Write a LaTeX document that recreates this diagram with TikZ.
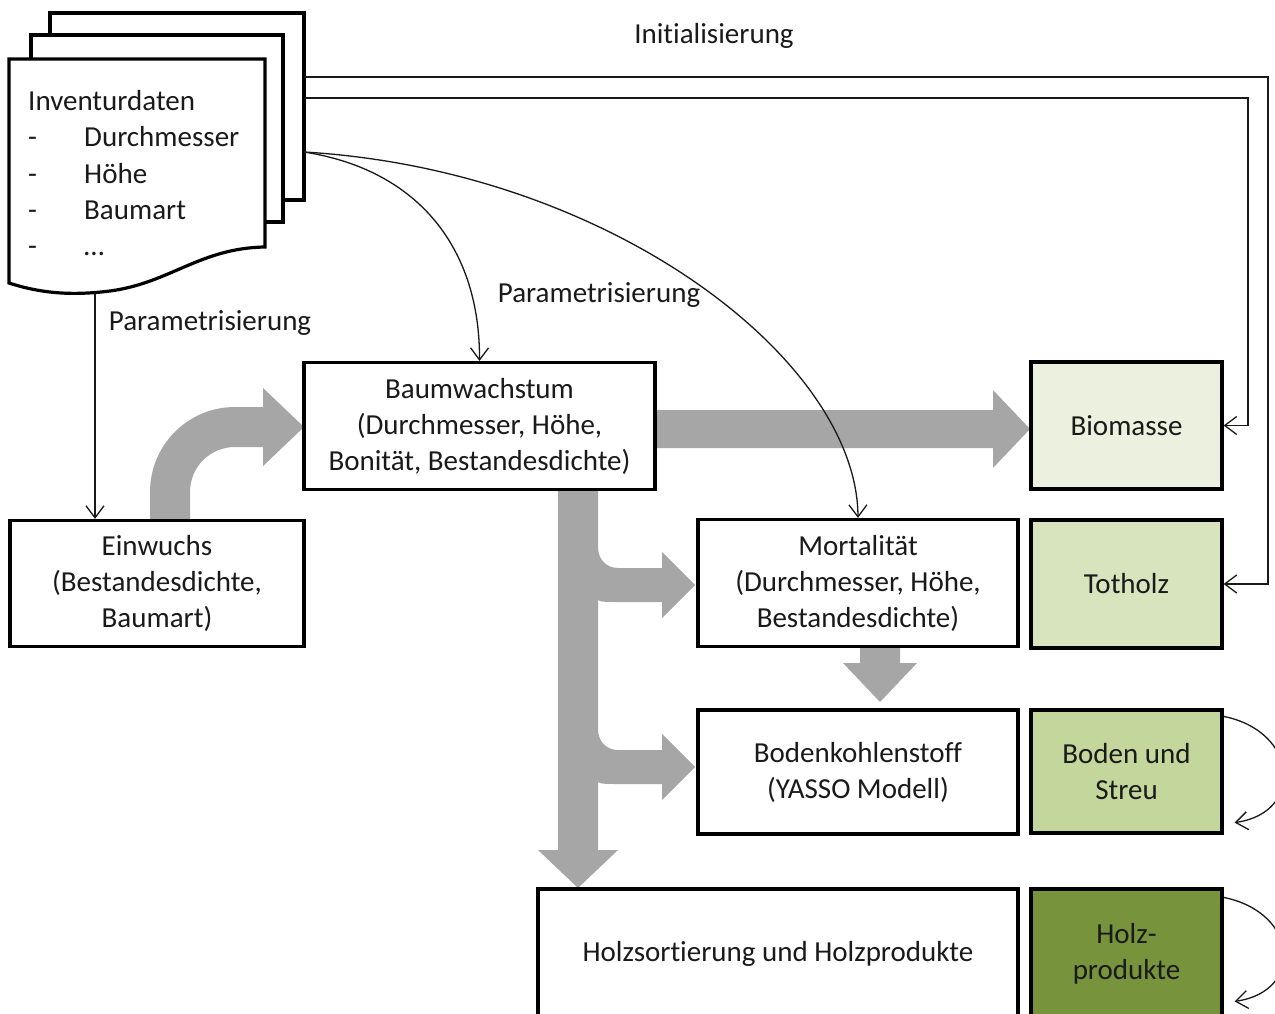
\documentclass[tikz,border=0pt]{standalone}
\usepackage{fontspec}
\setmainfont{Carlito}[Ligatures={NoCommon,NoContextual}]
\usetikzlibrary{arrows.meta,calc}
\definecolor{cbio}{HTML}{EBF1DE}
\definecolor{ctot}{HTML}{D7E4BD}
\definecolor{cbus}{HTML}{C3D69B}
\definecolor{chp}{HTML}{77933C}
\definecolor{cblk}{HTML}{A6A6A6}
\definecolor{ctxt}{HTML}{1A1A1A}
\begin{document}
\begin{tikzpicture}[x=1pt,y=-1pt,
  box/.style={draw=black,line width=3.2pt,fill=white,align=center,inner sep=0pt,text=ctxt,font=\fontsize{29}{36}\selectfont},
  lbl/.style={inner sep=0pt,text=ctxt,font=\fontsize{29}{36}\selectfont},
  conn/.style={line width=1.3pt,draw=black!90,-{Straight Barb[length=12pt,width=18pt]}},
  blockarrow/.style={fill=cblk,draw=none},
  pagebox/.style={draw=black,line width=3.2pt,fill=white,line join=miter}]
\useasboundingbox (0,0) rectangle (1275,1014);
\fill[white] (0,0) rectangle (1275,1014);
\clip (0,0) rectangle (1275,1014);

% ---------- document stack ----------
\draw[pagebox] (50,13) rectangle (304,200);
\draw[pagebox] (31,35) rectangle (283,222);
\draw[pagebox] (9,59) -- (265,59) -- (265,247)
  .. controls (200,248) and (170,283) .. (110,291)
  .. controls (70,296) and (40,293) .. (9,283) -- cycle;
\node[lbl,anchor=base west] (inv) at (28,111) {Inventurdaten};
\node[lbl,anchor=base west] (d1) at (28,147) {-};
\node[lbl,anchor=base west] (d2) at (28,183) {-};
\node[lbl,anchor=base west] (d3) at (28,219) {-};
\node[lbl,anchor=base west] (d4) at (28,255) {-};
\node[lbl,anchor=base west] (i1) at (84,147) {Durchmesser};
\node[lbl,anchor=base west] (i2) at (84,183) {Höhe};
\node[lbl,anchor=base west] (i3) at (84,219) {Baumart};
\node[lbl,anchor=base west] (i4) at (84,255) {…};
\coordinate (docT1) at (304,77);
\coordinate (docT2) at (304,98);
\coordinate (docC) at (304,152);
\coordinate (docB) at (95,293);

% ---------- boxes (positions) ----------
\path
  (479.5,426) coordinate (pbw)
  (157,583.5) coordinate (pein)
  (1126.5,425.5) coordinate (pbio)
  (858,583) coordinate (pmort)
  (1126.5,584) coordinate (ptot)
  (858,772) coordinate (pboko)
  (1126.5,771.5) coordinate (pbus)
  (778,954) coordinate (pholz)
  (1126.5,954) coordinate (php);

% ---------- gray block arrows ----------
\fill[blockarrow] (150,519) -- (150,492) .. controls (150,445) and (188,407) .. (235,407)
  -- (263,407) -- (263,388) -- (304,427) -- (263,466) -- (263,447) -- (235,447)
  .. controls (210,447) and (190,467) .. (190,492) -- (190,519) -- cycle;
\fill[blockarrow] (655,410) -- (993,410) -- (993,390) -- (1030,429) -- (993,468) -- (993,448) -- (655,448) -- cycle;
\fill[blockarrow] (558,488) -- (558,850) -- (538,850) -- (578,888) -- (618,850) -- (598,850)
  -- (598,782) .. controls (600,784) and (608,784) .. (618,784) -- (662,784) -- (662,800) -- (695,767) -- (662,734) -- (662,750) -- (618,750)
  .. controls (606,750) and (598,741) .. (598,729)
  -- (598,600) .. controls (600,602) and (608,602) .. (618,602) -- (662,602) -- (662,618) -- (695,585) -- (662,552) -- (662,568) -- (618,568)
  .. controls (606,568) and (598,559) .. (598,547)
  -- (598,488) -- cycle;
\fill[blockarrow] (860,645) -- (860,663) -- (843,663) -- (880,702) -- (917,663) -- (900,663) -- (900,645) -- cycle;

% ---------- boxes ----------
\node[box,minimum width=351pt,minimum height=127pt] (bw) at (pbw) {Baumwachstum\\(Durchmesser, Höhe,\\Bonität, Bestandesdichte)};
\node[box,minimum width=294pt,minimum height=126pt] (ein) at (pein) {Einwuchs\\(Bestandesdichte,\\Baumart)};
\node[box,minimum width=191pt,minimum height=127pt,fill=cbio] (bio) at (pbio) {Biomasse};
\node[box,minimum width=320pt,minimum height=127pt] (mort) at (pmort) {Mortalität\\(Durchmesser, Höhe,\\Bestandesdichte)};
\node[box,minimum width=191pt,minimum height=128pt,fill=ctot] (tot) at (ptot) {Totholz};
\node[box,minimum width=320pt,minimum height=124pt] (boko) at (pboko) {Bodenkohlenstoff\\(YASSO Modell)};
\node[box,minimum width=191pt,minimum height=123pt,fill=cbus] (bus) at (pbus) {Boden und\\Streu};
\node[box,minimum width=480pt,minimum height=130pt] (holz) at (pholz) {Holzsortierung und Holzprodukte};
\node[box,minimum width=191pt,minimum height=130pt,fill=chp] (hp) at (php) {Holz-\\produkte};

% ---------- labels ----------
\node[lbl] (linit) at (714,36) {Initialisierung};
\node[lbl] (lpar1) at (210,323) {Parametrisierung};
\node[lbl] (lpar2) at (599,295) {Parametrisierung};

% ---------- connectors ----------
\coordinate (r1) at (1268,0);
\coordinate (r2) at (1248,0);
\draw[conn] (docT1) -- (docT1 -| r1) -- (r1 |- tot.east) -- (tot.east);
\draw[conn] (docT2) -- (docT2 -| r2) -- (r2 |- bio.east) -- (bio.east);
\draw[conn] (docB) -- (docB |- ein.north);
\draw[conn] (docC) .. controls (420,170) and (480,250) .. (bw.north);
\draw[conn] (docC) .. controls (610,170) and (857,360) .. (mort.north);
\draw[conn] ($(bus.north east)+(0,8)$) .. controls +(75,15) and +(70,-10) .. ($(bus.south east)+(11,-12)$);
\draw[conn] ($(hp.north east)+(0,10)$) .. controls +(75,15) and +(70,-10) .. ($(hp.north east)+(11,114)$);
\end{tikzpicture}
\end{document}
